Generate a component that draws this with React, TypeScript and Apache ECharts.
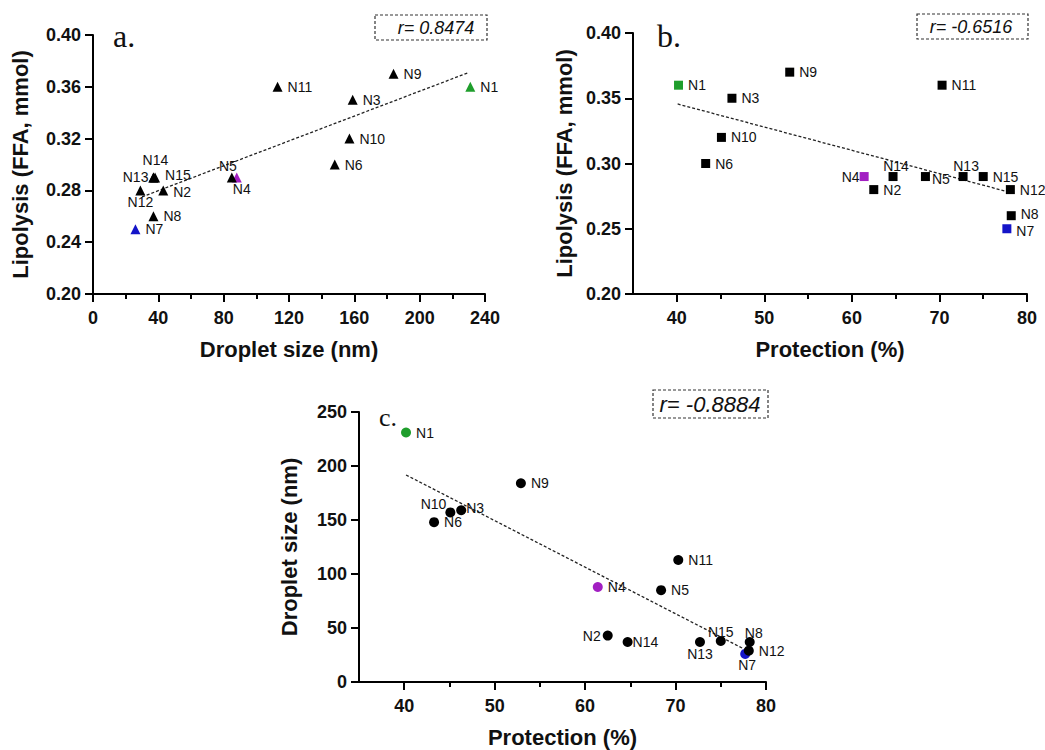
import React, { useEffect, useRef } from "react";
import * as echarts from "echarts";

// ---- data ----
const names = ["N1", "N2", "N3", "N4", "N5", "N6", "N7", "N8", "N9", "N10", "N11", "N12", "N13", "N14", "N15"];
const dropletSize = [231, 43, 159, 88, 85, 148, 26, 37, 184, 157, 113, 29, 37, 37, 38];
const protection = [40.2, 62.5, 46.3, 61.4, 68.4, 43.3, 77.7, 78.2, 52.9, 45.1, 70.3, 78.1, 72.7, 64.7, 75.0];
const lipolysis = [0.36, 0.28, 0.35, 0.29, 0.29, 0.30, 0.25, 0.26, 0.37, 0.32, 0.36, 0.28, 0.29, 0.29, 0.29];

// trend line end points
const trendA = [[30, 0.275], [230, 0.371]];
const trendB = [[40.1, 0.3456], [78, 0.278]];
const trendC = [[40.2, 191.7], [77.7, 30]];

const rValues = ["r= 0.8474", "r= -0.6516", "r= -0.8884"];

const xTicksA = [0, 40, 80, 120, 160, 200, 240];
const xTicksProt = [40, 50, 60, 70, 80];
const xMinorProt = [45, 55, 65, 75];

// ---- styles ----
const highlight: Record<string, string> = { N1: "#1f9e2c", N4: "#a21fc2", N7: "#1414c8" };
const FONT = "Liberation Sans";

type LC = Record<string, [string, number, number]>;
const labelA: LC = {
  N4: ["bottom", 5, -5],
  N5: ["top", -4, 6],
  N14: ["top", 2, 0],
  N13: ["left", 5, 0],
  N15: ["right", 0, -2],
  N2: ["right", 0, 2],
  N12: ["bottom", 0, -5],
};
const labelB: LC = {
  N4: ["left", 5, 0],
  N14: ["top", 3, 6],
  N5: ["right", -3, 2],
  N13: ["top", 3, 6],
  N8: ["right", 0, -2],
  N7: ["right", 0, 2],
};
const labelC: LC = {
  N10: ["left", 6, -8],
  N3: ["right", -5, -2],
  N2: ["left", 3, 0],
  N14: ["right", -5, 0],
  N13: ["bottom", 0, -5],
  N15: ["top", 0, 8],
  N8: ["top", 4, 8],
  N7: ["bottom", 2, -6],
};

function scatter(xs: number[], ys: number[], symbol: string, size: number, cfg: LC, xi: number, yi: number) {
  return {
    type: "scatter",
    xAxisIndex: xi,
    yAxisIndex: yi,
    symbol,
    symbolSize: size,
    z: 3,
    itemStyle: { opacity: 1 },
    label: { show: true, formatter: "{b}", fontSize: 14, fontFamily: FONT, color: "#111", distance: 5 },
    data: names.map((n, i) => {
      const c = cfg[n] || ["right", 0, 0];
      return {
        name: n,
        value: [xs[i], ys[i]],
        itemStyle: { color: highlight[n] || "#000", opacity: 1 },
        label: { position: c[0], offset: [c[1], c[2]] },
      };
    }),
  };
}

function trend(pts: number[][], xi: number, yi: number) {
  return {
    type: "line",
    xAxisIndex: xi,
    yAxisIndex: yi,
    symbol: "none",
    silent: true,
    z: 2,
    lineStyle: { color: "#222", width: 1.3, type: [3, 2] },
    data: pts,
  };
}

const axisLine = { show: true, lineStyle: { color: "#000", width: 2 } };
const tickLabel = { fontSize: 18, fontWeight: "bold", fontFamily: FONT, color: "#111" };
const titleStyle = { fontSize: 22, fontWeight: "bold", fontFamily: FONT, color: "#111" };

function rBox(x: number, y: number, w: number, h: number, tx: number, text: string, fs: number) {
  return [
    {
      type: "rect",
      shape: { x, y, width: w, height: h },
      style: { fill: "none", stroke: "#333", lineWidth: 1.2, lineDash: [3, 2] },
    },
    {
      type: "text",
      x: tx,
      y: y + h / 2,
      style: {
        text,
        fontSize: fs,
        fontStyle: "italic",
        fontFamily: FONT,
        fill: "#111",
        align: "center",
        verticalAlign: "middle",
      },
    },
  ];
}

export default function App() {
  const ref = useRef<HTMLDivElement>(null);
  useEffect(() => {
    if (!ref.current) return;
    const chart = echarts.init(ref.current, null, { renderer: "svg" });
    const option: any = {
      animation: false,
      backgroundColor: "#fff",
      grid: [
        { left: 93, top: 35, width: 392, height: 259 },
        { left: 633, top: 33, width: 394, height: 261 },
        { left: 359, top: 412, width: 407, height: 270 },
      ],
      xAxis: [
        {
          gridIndex: 0, type: "value", min: 0, max: 240, interval: 40,
          axisLine, splitLine: { show: false },
          axisTick: { show: true, length: 8, lineStyle: { width: 2, color: "#000" } },
          minorTick: { show: true, splitNumber: 2, length: 5, lineStyle: { width: 2, color: "#000" } },
          axisLabel: { ...tickLabel, margin: 15, customValues: xTicksA },
          name: "Droplet size (nm)", nameLocation: "middle", nameGap: 44, nameTextStyle: titleStyle,
        },
        {
          gridIndex: 1, type: "value", min: 35, max: 80,
          axisLine, splitLine: { show: false },
          axisTick: { show: true, length: 8, customValues: xTicksProt, lineStyle: { width: 2, color: "#000" } },
          axisLabel: { ...tickLabel, margin: 15, customValues: xTicksProt },
          name: "Protection (%)", nameLocation: "middle", nameGap: 44, nameTextStyle: titleStyle,
        },
        {
          gridIndex: 1, type: "value", min: 35, max: 80, position: "bottom",
          axisLine: { show: false }, splitLine: { show: false }, axisLabel: { show: false },
          axisTick: { show: true, length: 5, customValues: xMinorProt, lineStyle: { width: 2, color: "#000" } },
        },
        {
          gridIndex: 2, type: "value", min: 35, max: 80,
          axisLine, splitLine: { show: false },
          axisTick: { show: true, length: 8, customValues: xTicksProt, lineStyle: { width: 2, color: "#000" } },
          axisLabel: { ...tickLabel, margin: 15, customValues: xTicksProt },
          name: "Protection (%)", nameLocation: "middle", nameGap: 44, nameTextStyle: titleStyle,
        },
        {
          gridIndex: 2, type: "value", min: 35, max: 80, position: "bottom",
          axisLine: { show: false }, splitLine: { show: false }, axisLabel: { show: false },
          axisTick: { show: true, length: 5, customValues: xMinorProt, lineStyle: { width: 2, color: "#000" } },
        },
      ],
      yAxis: [
        {
          gridIndex: 0, type: "value", min: 0.2, max: 0.4, interval: 0.04,
          axisLine, splitLine: { show: false },
          axisTick: { show: true, length: 8, lineStyle: { width: 2, color: "#000" } },
          axisLabel: { ...tickLabel, margin: 12, formatter: (v: number) => v.toFixed(2) },
          name: "Lipolysis (FFA, mmol)", nameLocation: "middle", nameGap: 62, nameTextStyle: titleStyle,
        },
        {
          gridIndex: 1, type: "value", min: 0.2, max: 0.4, interval: 0.05,
          axisLine, splitLine: { show: false },
          axisTick: { show: true, length: 8, lineStyle: { width: 2, color: "#000" } },
          axisLabel: { ...tickLabel, margin: 12, formatter: (v: number) => v.toFixed(2) },
          name: "Lipolysis (FFA, mmol)", nameLocation: "middle", nameGap: 58, nameTextStyle: titleStyle,
        },
        {
          gridIndex: 2, type: "value", min: 0, max: 250, interval: 50,
          axisLine, splitLine: { show: false },
          axisTick: { show: true, length: 8, lineStyle: { width: 2, color: "#000" } },
          axisLabel: { ...tickLabel, margin: 12 },
          name: "Droplet size (nm)", nameLocation: "middle", nameGap: 59, nameTextStyle: titleStyle,
        },
      ],
      series: [
        trend(trendA, 0, 0),
        scatter(dropletSize, lipolysis, "triangle", 10, labelA, 0, 0),
        trend(trendB, 1, 1),
        scatter(protection, lipolysis, "rect", 9, labelB, 1, 1),
        trend(trendC, 3, 2),
        scatter(protection, dropletSize, "circle", 10, labelC, 3, 2),
      ],
      graphic: [
        { type: "text", x: 113, y: 36, style: { text: "a.", fontSize: 32, fontFamily: "Liberation Serif", fill: "#111", verticalAlign: "middle" } },
        { type: "text", x: 657, y: 36, style: { text: "b.", fontSize: 32, fontFamily: "Liberation Serif", fill: "#111", verticalAlign: "middle" } },
        { type: "text", x: 379, y: 417, style: { text: "c.", fontSize: 26, fontFamily: "Liberation Serif", fill: "#111", verticalAlign: "middle" } },
        ...rBox(375, 15, 112, 25, 436, rValues[0], 18),
        ...rBox(917, 14, 111, 25, 971, rValues[1], 18),
        ...rBox(653, 390, 115, 28, 710, rValues[2], 22),
      ],
    };
    chart.setOption(option);
    return () => chart.dispose();
  }, []);
  return (
    <div
      ref={ref}
      style={{ position: "fixed", left: 0, top: 0, width: 1045, height: 750, background: "#fff" }}
    />
  );
}
